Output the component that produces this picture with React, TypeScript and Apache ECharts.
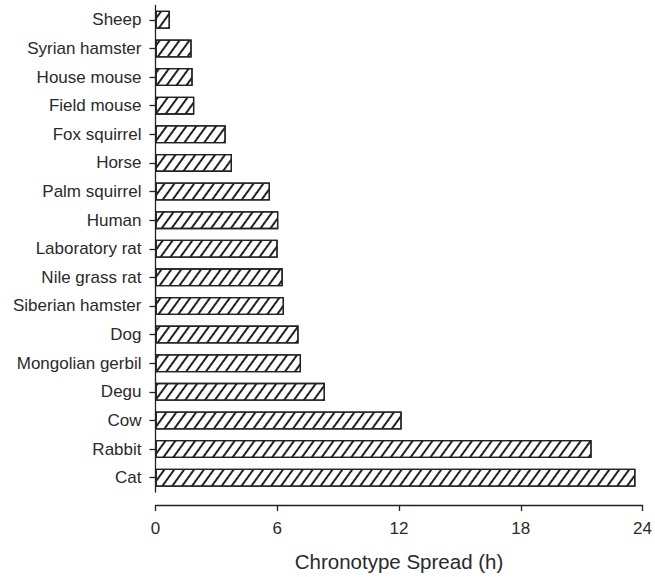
import React, { useEffect, useRef } from "react";
import * as echarts from "echarts";

const species = [
  "Sheep",
  "Syrian hamster",
  "House mouse",
  "Field mouse",
  "Fox squirrel",
  "Horse",
  "Palm squirrel",
  "Human",
  "Laboratory rat",
  "Nile grass rat",
  "Siberian hamster",
  "Dog",
  "Mongolian gerbil",
  "Degu",
  "Cow",
  "Rabbit",
  "Cat",
];

const spread = [
  0.71, 1.78, 1.83, 1.91, 3.46, 3.77, 5.64, 6.05, 6.02, 6.27, 6.33, 7.05, 7.17,
  8.35, 12.13, 21.49, 23.65,
];

const xTicks = [0, 6, 12, 18, 24];

const FONT = "'Liberation Sans', Arial, sans-serif";

export default function App() {
  const ref = useRef<HTMLDivElement>(null);
  useEffect(() => {
    if (!ref.current) return;
    const chart = echarts.init(ref.current, null, { renderer: "svg" });
    chart.setOption({
      animation: false,
      backgroundColor: "#fff",
      grid: { left: 155.5, right: 12, top: 5.5, height: 489, containLabel: false },
      xAxis: {
        type: "value",
        min: xTicks[0],
        max: xTicks[xTicks.length - 1],
        interval: 6,
        offset: 13,
        splitLine: { show: false },
        axisLine: { show: true, lineStyle: { color: "#222", width: 1.3 } },
        axisTick: { show: true, length: 6, inside: false, lineStyle: { color: "#222", width: 1.3 } },
        axisLabel: { color: "#2a2a2a", fontSize: 17, fontFamily: FONT, margin: 15 },
        name: "Chronotype Spread (h)",
        nameLocation: "middle",
        nameGap: 46,
        nameTextStyle: { color: "#2a2a2a", fontSize: 20.5, fontFamily: FONT },
      },
      yAxis: {
        type: "category",
        data: species,
        inverse: true,
        axisLine: { show: true, lineStyle: { color: "#222", width: 1.3 } },
        axisTick: { show: true, alignWithLabel: true, length: 6, lineStyle: { color: "#222", width: 1.3 } },
        axisLabel: { color: "#2a2a2a", fontSize: 17, fontFamily: FONT, margin: 14 },
        splitLine: { show: false },
      },
      series: [
        {
          type: "bar",
          data: spread,
          barWidth: 18,
          itemStyle: {
            color: "#fff",
            borderColor: "#222",
            borderWidth: 1.3,
            decal: {
              symbol: "rect",
              symbolSize: 1,
              dashArrayX: [1, 0],
              dashArrayY: [1.3, 5.9],
              rotation: -Math.PI * 0.3,
              color: "#222",
              backgroundColor: "#fff",
            },
          },
        },
      ],
    });
    return () => chart.dispose();
  }, []);
  return (
    <div
      ref={ref}
      style={{ position: "absolute", left: 0, top: 0, width: 655, height: 577 }}
    />
  );
}
